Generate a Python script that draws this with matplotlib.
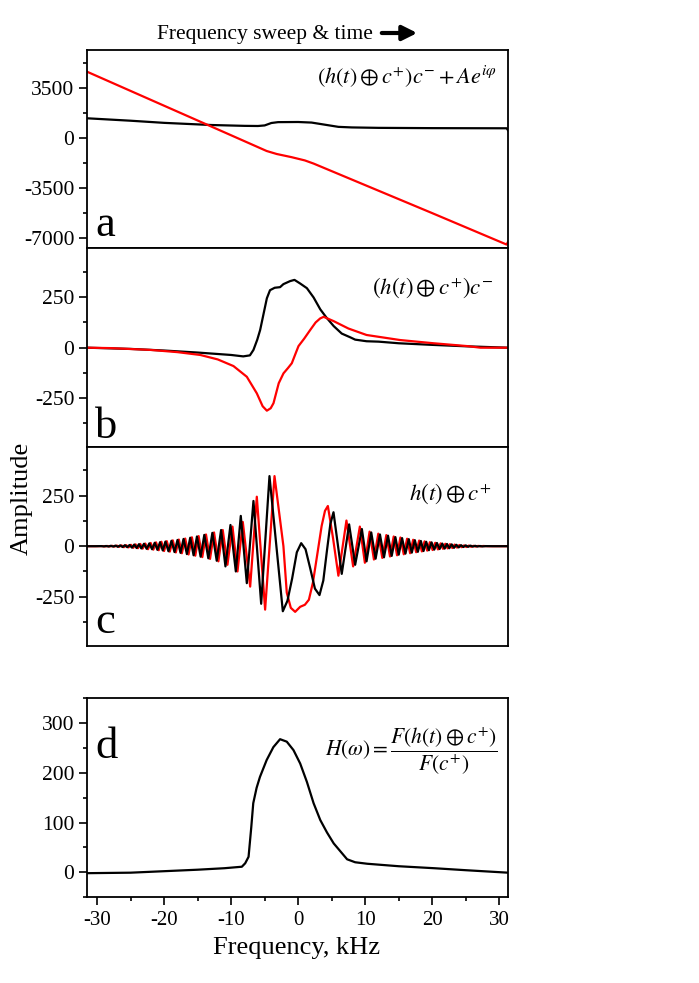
import matplotlib
matplotlib.use('Agg')
import matplotlib.pyplot as plt
from matplotlib.ticker import MultipleLocator, NullLocator

plt.rcParams['font.family'] = ['Liberation Serif', 'DejaVu Serif']
plt.rcParams['mathtext.fontset'] = 'stix'
plt.rcParams['axes.unicode_minus'] = False

# ---- panel a: chirp + reference term ----
a_black_f = [-31.5, -25, -20, -13, -8, -6, -5, -4, -3, 0, 2, 4, 6, 8, 12, 20, 31.1, 31.3]
a_black_v = [1400, 1230, 1080, 930, 870, 860, 900, 1070, 1130, 1140, 1100, 950, 800, 760, 730, 710, 700, 560]
a_red_f = [-31.5, -20, -10, -6, -4.7, -3.2, -1, 1, 2.3, 10, 20, 31.1, 31.3]
a_red_v = [4662, 2280, 210, -620, -890, -1100, -1320, -1550, -1770, -3280, -5240, -7440, -7250]

# ---- panel b ----
b_black_f = [-31.5, -25, -20, -15, -10, -8.2, -7.2, -6.67, -6.1, -5.67, -4.67, -4.2, -3.5, -2.7, -2.2,
             -1.2, -0.55, 0.3, 1.3, 2.3, 3.3, 4.2, 5.3, 6.5, 7.8, 8.5, 10.2, 12, 15, 20, 25, 31.3]
b_black_v = [0, -6, -14, -24, -36, -43, -38, -11, 40, 88, 245, 285, 297, 300, 315,
             330, 336, 318, 295, 249, 190, 150, 107, 70, 51, 40, 32, 30, 22, 14, 7, 0]
b_red_f = [-31.5, -28, -22, -18, -14.6, -12, -9.65, -7.66, -6.17, -5.3, -4.67, -4.1, -3.68, -2.9, -2.19,
           -1.5, -0.95, -0.4, 0.05, 0.9, 1.8, 2.6, 3.28, 3.8, 5.27, 7.5, 10.2, 15.2, 20.2, 25.2, 27.2, 31.3]
b_red_v = [0, -2, -11, -22, -36, -58, -91, -144, -226, -290, -312, -300, -275, -176, -127,
           -100, -77, -30, 8, 45, 88, 125, 145, 153, 132, 95, 63, 38, 22, 8, 0, 0]

# ---- panel c: extrema ----
c_black_f = [-31.5, -30.3, -29.4, -29.0, -28.65, -28.3, -27.95, -27.6, -27.25, -26.9, -26.55, -26.2,
             -25.85, -25.5, -25.15, -24.8, -24.45, -24.1, -23.75, -23.4, -23.0, -22.6, -22.2, -21.8,
             -21.4, -21.0, -20.6, -20.2, -19.8, -19.35, -18.9, -18.45, -18.0, -17.55, -17.1, -16.6,
             -16.1, -15.6, -15.1, -14.55, -14.0, -13.4, -12.8, -12.15, -11.5, -10.85, -10.1, -9.3,
             -8.56, -7.66, -6.67, -5.52, -4.28, -2.29, -1.6, -0.9, -0.2, 0.45, 1.1, 1.8, 2.5, 3.18,
             3.75, 4.3, 4.8, 5.27, 6.5, 7.6, 8.5, 9.5, 10.2, 10.9, 11.55, 12.2, 12.8, 13.4, 13.95,
             14.5, 15.0, 15.5, 16.0, 16.5, 16.95, 17.4, 17.85, 18.3, 18.7, 19.1, 19.5, 19.9, 20.3,
             20.7, 21.1, 21.5, 21.85, 22.2, 22.55, 22.9, 23.25, 23.6, 23.95, 24.3, 24.65, 25.0,
             25.35, 25.7, 26.05, 26.4, 26.75, 27.1, 27.5, 28.0, 29.0, 31.3]
c_black_v = [0, 0, 0.5, -1, 1, -1.5, 2, -2, 3, -3, 4, -4,
             5, -5, 6, -7, 8, -9, 10, -11, 12, -13, 14, -15,
             17, -18, 20, -21, 23, -25, 27, -29, 31, -33, 36, -39,
             42, -45, 48, -52, 56, -60, 66, -72, 80, -100, 105, -125,
             150, -183, 224, -285, 347, -322, -270, -160, -30, 15, -15, -110, -210, -242,
             -170, -20, 110, 168, -137, 108, -92, 85, -75, 68, -62, 58, -55, 52, -48,
             45, -42, 40, -37, 35, -32, 30, -28, 26, -24, 22, -20, 19, -17,
             16, -14, 13, -12, 11, -10, 9, -8, 7, -6, 5, -4, 4,
             -3, 3, -2, 2, -1.5, 1, -1, 0.5, 0, 0]
c_red_f = [-31.5, -30.0, -29.2, -28.8, -28.45, -28.1, -27.75, -27.4, -27.05, -26.7, -26.35, -26.0,
           -25.65, -25.3, -24.95, -24.6, -24.25, -23.9, -23.55, -23.2, -22.8, -22.4, -22.0, -21.6,
           -21.2, -20.8, -20.4, -20.0, -19.6, -19.15, -18.7, -18.25, -17.8, -17.35, -16.85, -16.35,
           -15.85, -15.35, -14.85, -14.3, -13.75, -13.15, -12.55, -11.9, -11.25, -10.55, -9.8, -9.05,
           -8.26, -7.16, -6.17, -4.93, -3.53, -2.2, -1.7, -1.1, -0.45, 0.3, 1.0, 1.6, 2.2, 2.9,
           3.5, 4.0, 4.43, 5.2, 6.0, 7.2, 8.2, 9.2, 9.95, 10.65, 11.3, 11.95, 12.55, 13.15, 13.7,
           14.25, 14.75, 15.25, 15.75, 16.25, 16.7, 17.15, 17.6, 18.05, 18.45, 18.85, 19.25, 19.65,
           20.05, 20.45, 20.85, 21.25, 21.6, 21.95, 22.3, 22.65, 23.0, 23.35, 23.7, 24.05, 24.4,
           24.75, 25.1, 25.45, 25.8, 26.15, 26.5, 26.85, 27.2, 27.6, 28.2, 31.3]
c_red_v = [0, 0, 0.5, -1, 1, -1.5, 2, -2, 3, -3, 4, -5,
           5, -6, 7, -8, 9, -10, 11, -12, 13, -15, 16, -17,
           19, -20, 22, -24, 25, -27, 29, -31, 33, -35, 38, -41,
           44, -47, 50, -54, 58, -63, 68, -75, 80, -92, 97, -125,
           120, -200, 245, -314, 347, 0, -230, -305, -325, -300, -290, -265, -180, -30,
           100, 175, 199, 40, -146, 127, -100, 97, -82, 72, -66, 62, -58, 55, -51,
           48, -45, 43, -40, 37, -35, 32, -30, 28, -26, 24, -22, 20,
           -19, 17, -16, 14, -13, 12, -11, 10, -9, 8, -7, 6, -5,
           4, -4, 3, -3, 2, -2, 1.5, -1, 1, 0, 0]

# ---- panel d: transfer function ----
d_f = [-31.5, -25, -20, -15, -11, -8.4, -7.9, -7.4, -7.0, -6.7, -6.2, -5.7, -4.7, -3.7, -2.7, -1.7,
       -0.7, 0.3, 1.3, 2.3, 3.3, 4.3, 5.3, 6.3, 7.3, 8.5, 10.3, 15, 20.3, 25, 31.3]
d_v = [-2, -1, 2, 5, 8, 11, 18, 31, 90, 139, 170, 192, 226, 252, 268, 263,
       246, 219, 182, 139, 105, 80, 58, 42, 26, 20, 17, 12, 8, 4, -1]

W, H = 6.99, 9.83
fig = plt.figure(figsize=(W, H), dpi=100)

def box(x0, y0, x1, y1):
    # pixel box (top-left origin) -> figure fraction rect
    return [x0 / 699, 1 - y1 / 983, (x1 - x0) / 699, (y1 - y0) / 983]

ax_a = fig.add_axes(box(87, 50, 508, 248))
ax_b = fig.add_axes(box(87, 248, 508, 447))
ax_c = fig.add_axes(box(87, 447, 508, 646))
ax_d = fig.add_axes(box(87, 698, 508, 897))

lw = 1.6
ax_a.plot(a_black_f, a_black_v, color='black', lw=lw)
ax_a.plot(a_red_f, a_red_v, color='#ff0000', lw=lw)
ax_b.plot(b_black_f, b_black_v, color='black', lw=lw)
ax_b.plot(b_red_f, b_red_v, color='#ff0000', lw=lw)
ax_c.plot(c_red_f, c_red_v, color='#ff0000', lw=lw)
ax_c.plot(c_black_f, c_black_v, color='black', lw=lw)
ax_d.plot(d_f, d_v, color='black', lw=lw)

ax_a.set_ylim(-7680, 6180)
ax_a.yaxis.set_major_locator(MultipleLocator(3500))
ax_a.yaxis.set_minor_locator(MultipleLocator(1750))
ax_b.set_ylim(-492, 494)
ax_c.set_ylim(-494, 491)
for ax in (ax_b, ax_c):
    ax.set_yticks([-250, 0, 250])
    ax.yaxis.set_minor_locator(MultipleLocator(125))
ax_d.set_ylim(-50, 351)
ax_d.yaxis.set_major_locator(MultipleLocator(100))
ax_d.yaxis.set_minor_locator(MultipleLocator(50))

for ax in (ax_a, ax_b, ax_c, ax_d):
    ax.set_xlim(-31.5, 31.3)
    for s in ax.spines.values():
        s.set_linewidth(1.3)
    ax.tick_params(axis='both', which='major', direction='out', length=6, width=1.2,
                   labelsize=15.5, pad=3)
    ax.tick_params(axis='both', which='minor', direction='out', length=3, width=1.2)
    ax.tick_params(top=False, right=False, which='both')

for ax in (ax_a, ax_b, ax_c):
    ax.xaxis.set_major_locator(NullLocator())
    ax.xaxis.set_minor_locator(NullLocator())

ax_d.xaxis.set_major_locator(MultipleLocator(10))
ax_d.xaxis.set_minor_locator(MultipleLocator(5))
ax_d.tick_params(axis='x', labelsize=15, pad=4)

# panel letters
for ax, lab, y in ((ax_a, 'a', 0.06), (ax_b, 'b', 0.045), (ax_c, 'c', 0.065), (ax_d, 'd', 0.70)):
    ax.text(0.02, y, lab, transform=ax.transAxes, fontsize=32, ha='left', va='baseline')

# formulas
ax_a.text(0.974, 0.865, r'$\left(h(t)\oplus c^{+}\right)c^{-}+Ae^{i\varphi}$',
          transform=ax_a.transAxes, ha='right', va='center', fontsize=16)
ax_b.text(0.964, 0.80, r'$\left(h(t)\oplus c^{+}\right)c^{-}$',
          transform=ax_b.transAxes, ha='right', va='center', fontsize=16.5)
ax_c.text(0.962, 0.764, r'$h(t)\oplus c^{+}$',
          transform=ax_c.transAxes, ha='right', va='center', fontsize=16.5)
ax_d.text(0.976, 0.73, r'$H(\omega)=\dfrac{F\left(h(t)\oplus c^{+}\right)}{F(c^{+})}$',
          transform=ax_d.transAxes, ha='right', va='center', fontsize=15.5)

# labels
fig.text(22 / 699, 1 - 498 / 983, 'Amplitude', rotation=90, ha='center', va='center', fontsize=19)
fig.text(297 / 699, 1 - 948 / 983, 'Frequency, kHz', ha='center', va='center', fontsize=19)
fig.text(373 / 699, 1 - 39 / 983, 'Frequency sweep & time', ha='right', va='baseline', fontsize=15.5)
fig.add_artist(matplotlib.patches.FancyArrowPatch(
    (379 / 699, 1 - 33 / 983), (420 / 699, 1 - 33 / 983), transform=fig.transFigure,
    arrowstyle='-|>', mutation_scale=22, lw=3, color='black'))

fig.savefig('out.png', dpi=100)
